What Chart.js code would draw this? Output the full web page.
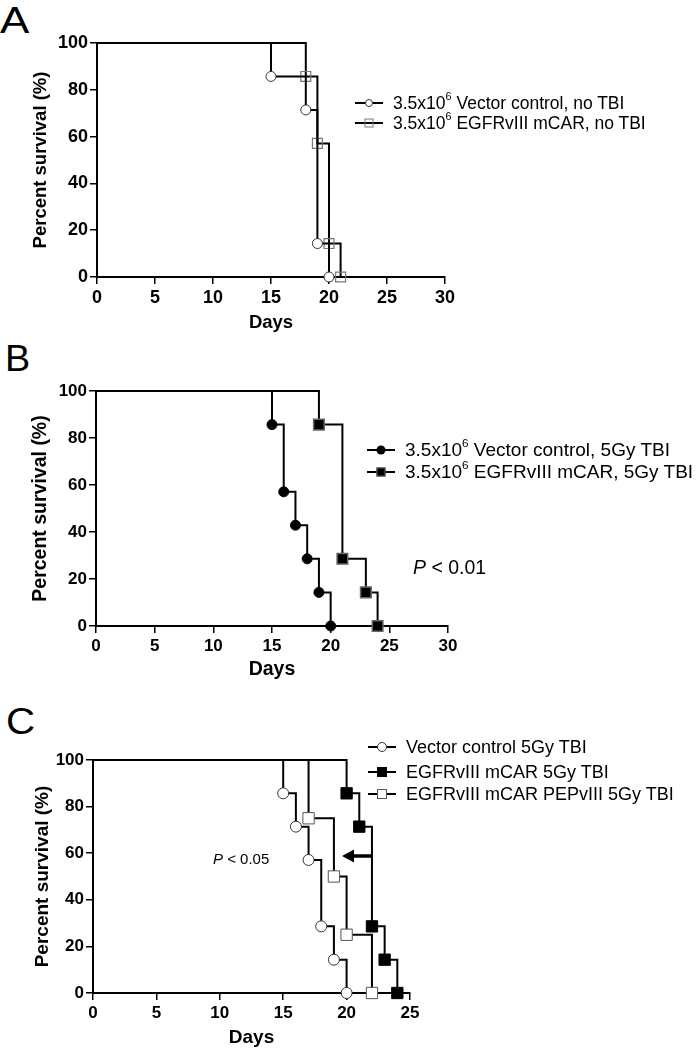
<!DOCTYPE html>
<html>
<head>
<meta charset="utf-8">
<script src="https://cdn.jsdelivr.net/npm/chart.js@4.4.1/dist/chart.umd.min.js"></script>
<style>
  body { margin: 0; background: #fff; }
  #page { position: relative; width: 696px; height: 1050px; font-family: "Liberation Sans", Arial, sans-serif; color: #000; overflow: hidden; }
  canvas { position: absolute; left: 0; }
  .letter { position: absolute; font-size: 36px; line-height: 1; transform-origin: left top; }
  .row { position: absolute; height: 20px; display: flex; align-items: center; white-space: nowrap; font-size: 18px; line-height: 20px; }
  .sym { position: relative; width: 28px; height: 20px; flex: none; }
  .sym .ln { position: absolute; left: 0; right: 0; top: 9px; height: 2px; background: #000; }
  .sym .mk { position: absolute; left: 50%; top: 50%; transform: translate(-50%, -50%); box-sizing: border-box; }
  .txt { margin-left: 10px; }
  sup { font-size: 0.62em; line-height: 0; vertical-align: 0.8em; }
  .note { position: absolute; white-space: nowrap; }
</style>
</head>
<body>
<div id="page">
  <div class="letter" style="left:0px; top:3px; transform:scaleX(1.22);">A</div>
  <div class="letter" style="left:5px; top:341px; transform:scaleX(1.05);">B</div>
  <div class="letter" style="left:6px; top:704px; transform:scaleX(1.12);">C</div>

  <canvas id="chartA" width="460" height="340" style="top:0px;"></canvas>
  <canvas id="chartB" width="470" height="350" style="top:330px;"></canvas>
  <canvas id="chartC" width="430" height="360" style="top:690px;"></canvas>

  <!-- legend A -->
  <div class="row" style="left:355px; top:93px; font-size:17.5px;">
    <span class="sym"><span class="ln"></span><span class="mk" style="width:8px;height:8px;border-radius:50%;background:#fff;border:1px solid #333;"></span></span>
    <span class="txt">3.5x10<sup>6</sup> Vector control, no TBI</span>
  </div>
  <div class="row" style="left:355px; top:113px; font-size:17.5px;">
    <span class="sym"><span class="ln"></span><span class="mk" style="width:9px;height:9px;border:1px solid #777;"></span></span>
    <span class="txt">3.5x10<sup>6</sup> EGFRvIII mCAR, no TBI</span>
  </div>

  <!-- legend B -->
  <div class="row" style="left:367px; top:440px; font-size:19px;">
    <span class="sym"><span class="ln"></span><span class="mk" style="width:9px;height:9px;border-radius:50%;background:#000;"></span></span>
    <span class="txt">3.5x10<sup>6</sup> Vector control, 5Gy TBI</span>
  </div>
  <div class="row" style="left:367px; top:462px; font-size:19px;">
    <span class="sym"><span class="ln"></span><span class="mk" style="width:9px;height:9px;background:#000;border:1px solid #666;"></span></span>
    <span class="txt">3.5x10<sup>6</sup> EGFRvIII mCAR, 5Gy TBI</span>
  </div>
  <div class="note" style="left:413px; top:557px; font-size:19.5px; line-height:20px;"><i>P</i> &lt; 0.01</div>

  <!-- legend C -->
  <div class="row" style="left:368px; top:737px;">
    <span class="sym"><span class="ln"></span><span class="mk" style="width:10px;height:10px;border-radius:50%;background:#fff;border:1px solid #333;"></span></span>
    <span class="txt">Vector control 5Gy TBI</span>
  </div>
  <div class="row" style="left:368px; top:762px;">
    <span class="sym"><span class="ln"></span><span class="mk" style="width:10px;height:10px;background:#000;"></span></span>
    <span class="txt">EGFRvIII mCAR 5Gy TBI</span>
  </div>
  <div class="row" style="left:368px; top:784px;">
    <span class="sym"><span class="ln"></span><span class="mk" style="width:10px;height:10px;background:#fff;border:1px solid #555;"></span></span>
    <span class="txt">EGFRvIII mCAR PEPvIII 5Gy TBI</span>
  </div>
  <div class="note" style="left:213px; top:850px; font-size:15px; line-height:18px;"><i>P</i> &lt; 0.05</div>

  <svg style="position:absolute; left:0; top:0;" width="696" height="1050">
    <line x1="371" y1="856" x2="352" y2="856" stroke="#000" stroke-width="3.5"/>
    <polygon points="342,856 354,849.5 354,862.5" fill="#000"/>
  </svg>
</div>

<script>
// ── Data ─────────────────────────────────────
// A: no TBI
const daysA_vector = [0, 15, 18, 19, 20];
const survA_vector = [100, 85.7, 71.4, 14.3, 0];
const daysA_car    = [0, 18, 19, 20, 21];
const survA_car    = [100, 85.7, 57.1, 14.3, 0];

// B: 5Gy TBI
const daysB_vector = [0, 15, 16, 17, 18, 19, 20];
const survB_vector = [100, 85.7, 57.1, 42.9, 28.6, 14.3, 0];
const daysB_car    = [0, 19, 21, 23, 24];
const survB_car    = [100, 85.7, 28.6, 14.3, 0];

// C: 5Gy TBI, with PEPvIII
const daysC_vector = [0, 15, 16, 17, 18, 19, 20];
const survC_vector = [100, 85.7, 71.4, 57.1, 28.6, 14.3, 0];
const daysC_car    = [0, 20, 21, 22, 23, 24];
const survC_car    = [100, 85.7, 71.4, 28.6, 14.3, 0];
const daysC_pep    = [0, 17, 19, 20, 22];
const survC_pep    = [100, 75, 50, 25, 0];

const xMaxAB = 30, xMaxC = 25, xStep = 5;
const yMax = 100, yStep = 20;

// ── Helpers ──────────────────────────────────
Chart.defaults.font.family = '"Liberation Sans", Arial, sans-serif';
Chart.defaults.color = '#000';

function kmSet(days, surv, mk) {
  return {
    data: days.map((d, i) => ({ x: d, y: surv[i] })),
    stepped: 'before',
    borderColor: '#000',
    borderWidth: 2,
    fill: false,
    clip: false,
    pointStyle: mk.style,
    pointRadius: ctx => ctx.dataIndex === 0 ? 0 : mk.r,
    pointBackgroundColor: mk.fill,
    pointBorderColor: mk.stroke,
    pointBorderWidth: mk.w
  };
}

function makePanel(id, sets, xMax, box) {
  const canvas = document.getElementById(id);
  const tickFont  = { size: box.tickSize, weight: 'bold' };
  const titleFont = { size: box.titleSize, weight: 'bold' };
  const half = box.titleSize * 1.2 / 2;
  const padLeft = box.titleX - half;
  const bottomEdge = box.daysY + half;
  const axisGrid = { drawOnChartArea: false, drawTicks: true, tickLength: 7, color: '#000', lineWidth: 1.5 };
  const axisBorder = { display: true, color: '#000', width: 2 };
  new Chart(canvas, {
    type: 'line',
    data: { datasets: sets },
    options: {
      responsive: false,
      animation: false,
      events: [],
      layout: { padding: { left: padLeft, top: box.top, right: canvas.width - box.right, bottom: canvas.height - bottomEdge } },
      plugins: { legend: { display: false }, tooltip: { enabled: false } },
      scales: {
        x: {
          type: 'linear', min: 0, max: xMax,
          ticks: { stepSize: xStep, font: tickFont, color: '#000', padding: 3, maxRotation: 0 },
          grid: axisGrid, border: axisBorder,
          title: { display: true, text: 'Days', font: titleFont, color: '#000', padding: 0 },
          afterFit: s => { s.height = bottomEdge - box.bottom; }
        },
        y: {
          type: 'linear', min: 0, max: yMax,
          ticks: { stepSize: yStep, font: tickFont, color: '#000', padding: 2 },
          grid: axisGrid, border: axisBorder,
          title: { display: true, text: 'Percent survival (%)', font: titleFont, color: '#000', padding: 0 },
          afterFit: s => { s.width = box.left - padLeft; }
        }
      }
    }
  });
}

// ── Panel A ──────────────────────────────────
makePanel('chartA', [
  kmSet(daysA_vector, survA_vector, { style: 'circle', r: 5, fill: '#fff', stroke: '#333', w: 1 }),
  kmSet(daysA_car, survA_car, { style: 'rect', r: 7, fill: 'rgba(0,0,0,0)', stroke: '#777', w: 1.2 })
], xMaxAB, { left: 97, right: 445, top: 43, bottom: 277, titleX: 41, daysY: 323, tickSize: 18, titleSize: 18.5 });

// ── Panel B ──────────────────────────────────
makePanel('chartB', [
  kmSet(daysB_vector, survB_vector, { style: 'circle', r: 5, fill: '#000', stroke: '#000', w: 1 }),
  kmSet(daysB_car, survB_car, { style: 'rect', r: 7.5, fill: '#000', stroke: '#666', w: 1.5 })
], xMaxAB, { left: 96, right: 448, top: 61, bottom: 296, titleX: 41, daysY: 340, tickSize: 17, titleSize: 19.5 });

// ── Panel C ──────────────────────────────────
makePanel('chartC', [
  kmSet(daysC_vector, survC_vector, { style: 'circle', r: 5.5, fill: '#fff', stroke: '#333', w: 1 }),
  kmSet(daysC_car, survC_car, { style: 'rect', r: 8, fill: '#000', stroke: '#000', w: 1 }),
  kmSet(daysC_pep, survC_pep, { style: 'rect', r: 8, fill: '#fff', stroke: '#555', w: 1 })
], xMaxC, { left: 93, right: 410, top: 70, bottom: 303, titleX: 43, daysY: 348, tickSize: 17, titleSize: 19 });
</script>
</body>
</html>
